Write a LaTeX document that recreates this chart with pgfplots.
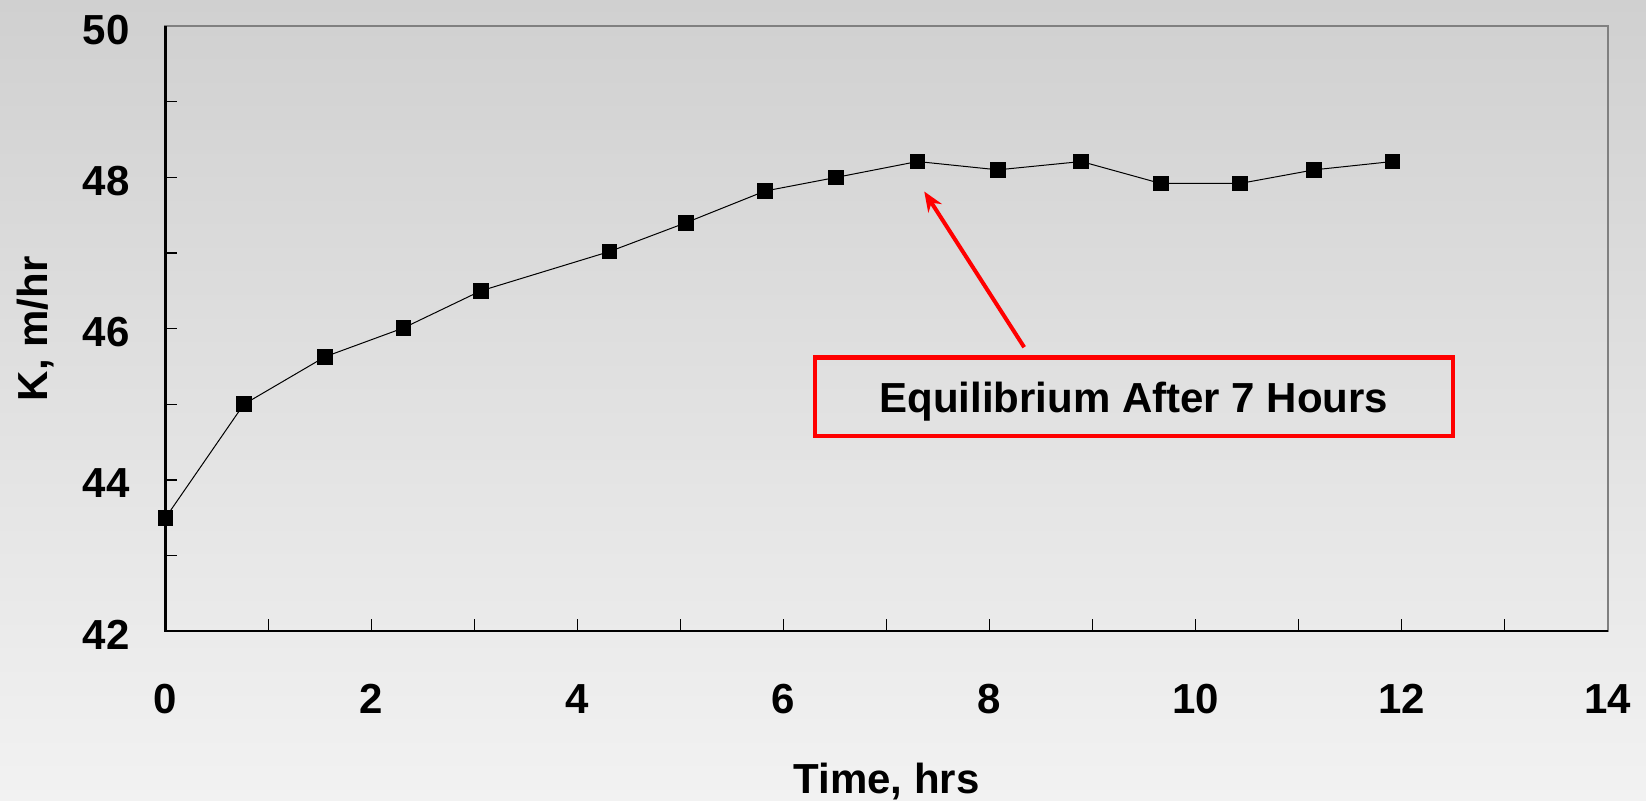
\documentclass[border=0pt]{standalone}
\usepackage{pgfplots}
\pgfplotsset{compat=1.18}
\usepackage{fontspec}
\setmainfont{Liberation Sans}
\usetikzlibrary{arrows.meta}
\definecolor{bgtop}{RGB}{208,208,208}
\definecolor{bgbot}{RGB}{242,242,242}
\definecolor{framegray}{RGB}{128,128,128}
\begin{document}
\begin{tikzpicture}
\shade[top color=bgtop, bottom color=bgbot] (-82.75pt,-84.85pt) rectangle (740.25pt,315.65pt);
\begin{axis}[
  at={(0,0)}, anchor=south west,
  scale only axis, width=721.15pt, height=302.6pt,
  xmin=0, xmax=14, ymin=42, ymax=50,
  xtick={0,2,...,14}, minor xtick={1,3,...,13},
  ytick={42,44,...,50}, minor ytick={43,45,...,49},
  tick align=inside, xtick pos=bottom, ytick pos=left,
  major tick length=6pt, minor tick length=6pt,
  tick style={black, line width=0.6pt},
  axis line style={framegray, line width=1.2pt},
  /pgf/number format/assume math mode=true,
  ticklabel style={font=\fontsize{21}{25}\selectfont\bfseries},
  label style={font=\fontsize{21}{25}\selectfont\bfseries},
  xticklabel style={anchor=base, inner sep=0pt, yshift=-41.3pt},
  yticklabel style={anchor=east, inner sep=0pt, xshift=-17.75pt, yshift=-1.75pt},
  xlabel={Time, hrs}, ylabel={K, m/hr},
  xlabel style={at={(axis description cs:0.5,0)}, anchor=base, yshift=-81pt},
  ylabel style={at={(axis description cs:-0.0815,0.5)}, anchor=base},
  clip=false,
]
\addplot[black, line width=0.5pt, mark=square*, mark size=3.7pt, mark options={solid, fill=black}] coordinates {
(0,43.50) (0.76,45.00) (1.55,45.63) (2.31,46.01) (3.06,46.50) (4.31,47.02)
(5.05,47.40) (5.82,47.82) (6.51,48.00) (7.30,48.21) (8.08,48.10) (8.89,48.21)
(9.66,47.92) (10.43,47.92) (11.15,48.10) (11.91,48.21)
};
\draw[red, line width=2pt, -{Stealth[length=10pt,width=8pt]}] (axis cs:8.335,45.755) -- (axis cs:7.365,47.814);
\node[draw=red, line width=2.2pt, minimum width=319.2pt, minimum height=39.35pt, inner sep=0pt, text depth=0pt, font=\fontsize{21}{25}\selectfont\bfseries] at (axis cs:9.40,45.10) {Equilibrium After 7 Hours};
\draw[black, line width=1.2pt] (rel axis cs:0,1) -- (rel axis cs:0,0) -- (rel axis cs:1,0);
\end{axis}
\pgfresetboundingbox
\path[use as bounding box] (-82.75pt,-84.85pt) rectangle (740.25pt,315.65pt);
\end{tikzpicture}
\end{document}
